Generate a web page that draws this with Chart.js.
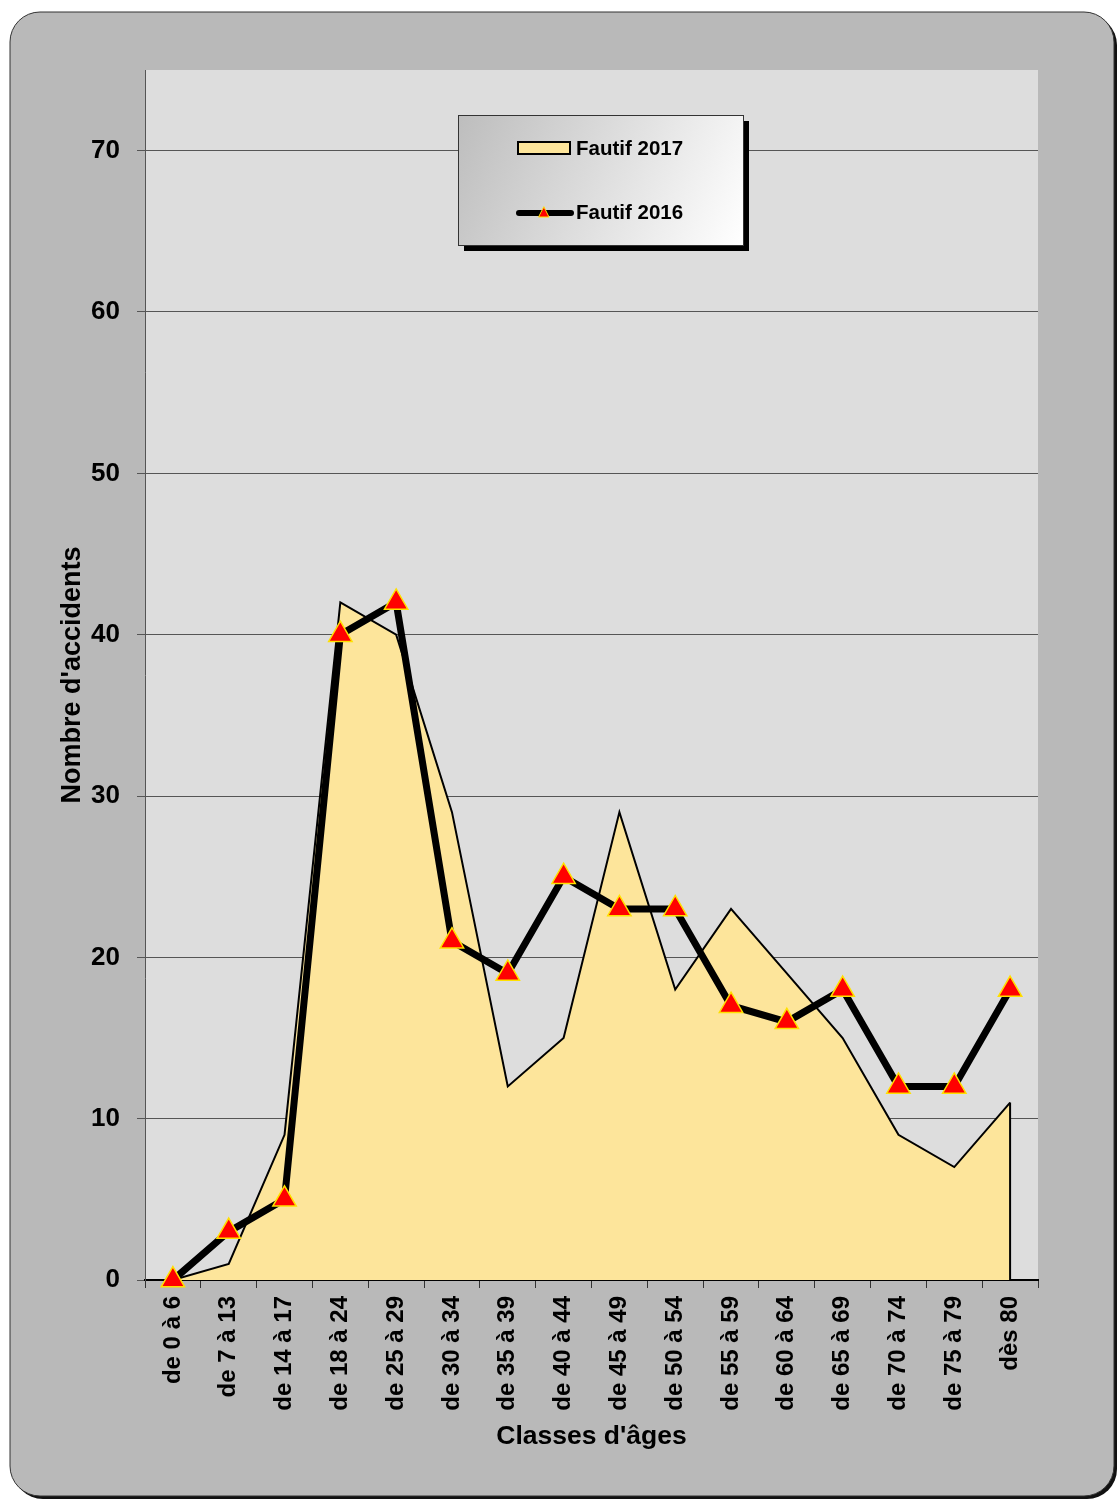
<!DOCTYPE html>
<html>
<head>
<meta charset="utf-8">
<script src="https://cdn.jsdelivr.net/npm/chart.js@4.4.1/dist/chart.umd.min.js"></script>
<style>
  html, body { margin: 0; padding: 0; background: #fff; }
  #wrap { width: 1117px; height: 1501px; position: relative; }
</style>
</head>
<body>
<div id="wrap"><canvas id="chart" width="1117" height="1501"></canvas></div>
<script>
const categories = ["de 0 à 6", "de 7 à 13", "de 14 à 17", "de 18 à 24", "de 25 à 29", "de 30 à 34",
  "de 35 à 39", "de 40 à 44", "de 45 à 49", "de 50 à 54", "de 55 à 59", "de 60 à 64",
  "de 65 à 69", "de 70 à 74", "de 75 à 79", "dès 80"];
const fautif2017 = [0, 1, 9, 42, 40, 29, 12, 15, 29, 18, 23, 19, 15, 9, 7, 11];
const fautif2016 = [0, 3, 5, 40, 42, 21, 19, 25, 23, 23, 17, 16, 18, 12, 12, 18];
const yMin = 0;
const yMax = 75;
const yStep = 10;

const FONT = "'Liberation Sans', Arial, sans-serif";

// outer rounded panel
const panelPlugin = {
  id: "panel",
  beforeDraw(chart) {
    const ctx = chart.ctx;
    ctx.save();
    ctx.fillStyle = "#ffffff";
    ctx.fillRect(0, 0, chart.width, chart.height);
    ctx.beginPath();
    ctx.roundRect(13, 15, 1104, 1484, 30);
    ctx.fillStyle = "#111";
    ctx.fill();
    ctx.beginPath();
    ctx.roundRect(10, 12, 1104, 1484, 30);
    ctx.fillStyle = "#b9b9b9";
    ctx.fill();
    ctx.strokeStyle = "#333";
    ctx.lineWidth = 1;
    ctx.stroke();
    const a = chart.chartArea;
    ctx.fillStyle = "#dddddd";
    ctx.fillRect(a.left, a.top, a.right - a.left, a.bottom - a.top);
    ctx.restore();
  }
};

// closing vertical edge of the area + legend box
const extrasPlugin = {
  id: "extras",
  afterDatasetDraw(chart, args) {
    if (args.index !== 0) return;
    const meta = chart.getDatasetMeta(0);
    const last = meta.data[meta.data.length - 1];
    const y0 = chart.scales.y.getPixelForValue(0);
    const ctx = chart.ctx;
    ctx.save();
    ctx.strokeStyle = "#000";
    ctx.lineWidth = 2;
    ctx.beginPath();
    ctx.moveTo(last.x, last.y);
    ctx.lineTo(last.x, y0);
    ctx.stroke();
    ctx.restore();
  },
  afterDraw(chart) {
    const ctx = chart.ctx;
    const x = 458, y = 115, w = 285, h = 130;
    ctx.save();
    ctx.fillStyle = "#000";
    ctx.fillRect(x + 6, y + 6, w, h);
    const g = ctx.createLinearGradient(x, y, x + w, y + h);
    g.addColorStop(0, "#bdbdbd");
    g.addColorStop(1, "#ffffff");
    ctx.fillStyle = g;
    ctx.fillRect(x, y, w, h);
    ctx.strokeStyle = "#333";
    ctx.lineWidth = 1;
    ctx.strokeRect(x + 0.5, y + 0.5, w, h);

    const ds = chart.data.datasets;
    ctx.font = "bold 20.5px " + FONT;
    ctx.textBaseline = "middle";
    // item 1: area swatch
    ctx.fillStyle = ds[0].backgroundColor;
    ctx.fillRect(518, 142, 52, 12);
    ctx.strokeStyle = "#000";
    ctx.lineWidth = 2;
    ctx.strokeRect(518, 142, 52, 12);
    ctx.fillStyle = "#000";
    ctx.fillText(ds[0].label, 576, 149);
    // item 2: line + triangle
    ctx.lineWidth = 6;
    ctx.lineCap = "round";
    ctx.beginPath();
    ctx.moveTo(519, 213);
    ctx.lineTo(571, 213);
    ctx.stroke();
    ctx.beginPath();
    ctx.moveTo(544, 207);
    ctx.lineTo(549, 217);
    ctx.lineTo(539, 217);
    ctx.closePath();
    ctx.fillStyle = ds[1].pointBackgroundColor;
    ctx.fill();
    ctx.strokeStyle = ds[1].pointBorderColor;
    ctx.lineWidth = 1;
    ctx.stroke();
    ctx.fillStyle = "#000";
    ctx.fillText(ds[1].label, 576, 213);
    ctx.restore();
  }
};

new Chart(document.getElementById("chart"), {
  type: "line",
  data: {
    labels: categories,
    datasets: [
      {
        label: "Fautif 2017",
        data: fautif2017,
        fill: "origin",
        backgroundColor: "#fde59b",
        borderColor: "#000",
        borderWidth: 2,
        pointRadius: 0,
        tension: 0,
        order: 2
      },
      {
        label: "Fautif 2016",
        data: fautif2016,
        fill: false,
        borderColor: "#000",
        borderWidth: 7,
        pointStyle: "triangle",
        pointRadius: 13.5,
        pointBackgroundColor: "#ff0000",
        pointBorderColor: "#ffe000",
        pointBorderWidth: 1.5,
        tension: 0,
        clip: false,
        order: 1
      }
    ]
  },
  options: {
    responsive: false,
    animation: false,
    devicePixelRatio: 1,
    layout: { padding: { left: 0, top: 70, right: 79, bottom: 0 } },
    plugins: {
      legend: { display: false },
      tooltip: { enabled: false }
    },
    scales: {
      x: {
        offset: true,
        afterFit(scale) { scale.height = 221; },
        grid: {
          offset: true,
          drawOnChartArea: false,
          drawTicks: true,
          tickLength: 8,
          color: "#333"
        },
        border: { display: true, color: "#000", width: 2 },
        ticks: {
          minRotation: 90,
          maxRotation: 90,
          autoSkip: false,
          padding: 8,
          color: "#000",
          font: { family: FONT, size: 24, weight: "bold" }
        },
        title: {
          display: true,
          text: "Classes d'âges",
          color: "#000",
          padding: { top: 0, bottom: 48 },
          font: { family: FONT, size: 26.5, weight: "bold" }
        }
      },
      y: {
        min: yMin,
        max: yMax,
        afterFit(scale) { scale.width = 145; },
        grid: {
          color: "#555",
          lineWidth: 1,
          tickLength: 8
        },
        border: { display: true, color: "#555", width: 1 },
        ticks: {
          stepSize: yStep,
          includeBounds: false,
          padding: 17,
          color: "#000",
          font: { family: FONT, size: 26, weight: "bold" }
        },
        title: {
          display: true,
          text: "Nombre d'accidents",
          color: "#000",
          padding: { top: 56, bottom: 0 },
          font: { family: FONT, size: 27, weight: "bold" }
        }
      }
    }
  },
  plugins: [panelPlugin, extrasPlugin]
});
</script>
</body>
</html>
